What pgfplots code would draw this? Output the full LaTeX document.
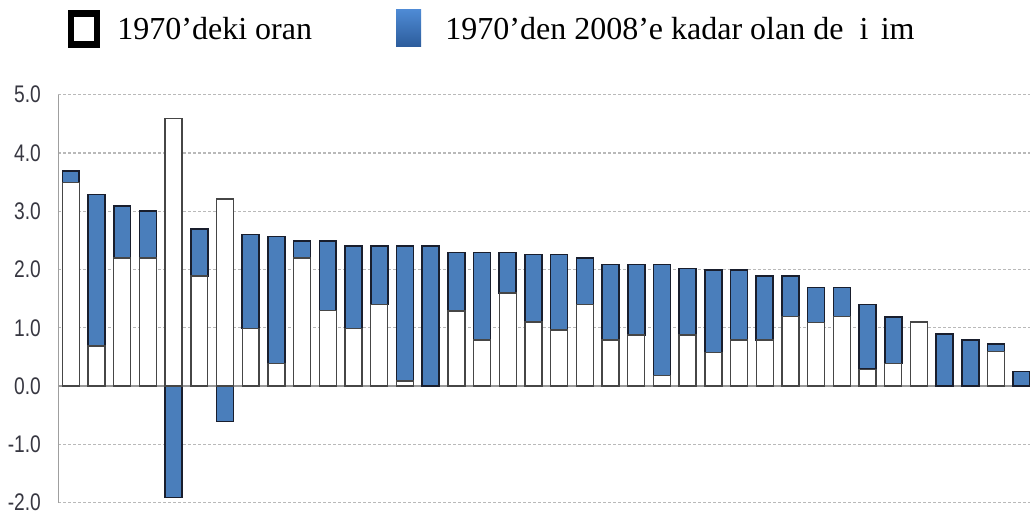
\documentclass[border=0pt]{standalone}
\usepackage{fontspec}
\setmainfont{Liberation Serif}
\newfontfamily\tickfont[FakeStretch=0.8]{Liberation Sans}
\usepackage{pgfplots}
\usepackage{pgfplotstable}
\pgfplotsset{compat=1.18}

\definecolor{barblue}{RGB}{74,126,187}
\definecolor{barline}{RGB}{25,30,45}
\definecolor{whiteline}{RGB}{70,70,70}
\definecolor{ticktext}{RGB}{55,55,65}
\definecolor{gridgray}{RGB}{185,185,185}

% n, rate in 1970, change 1970-2008
\pgfplotstableread{
n  base  change
1  3.49  0.20
2  0.69  2.60
3  2.20  0.89
4  2.20  0.80
5  4.59  -1.91
6  1.89  0.81
7  3.21  -0.61
8  0.99  1.61
9  0.39  2.18
10 2.20  0.29
11 1.30  1.19
12 0.99  1.41
13 1.40  1.00
14 0.09  2.31
15 0.00  2.40
16 1.29  1.00
17 0.79  1.50
18 1.60  0.69
19 1.10  1.16
20 0.96  1.30
21 1.40  0.80
22 0.79  1.30
23 0.88  1.21
24 0.18  1.91
25 0.88  1.14
26 0.58  1.41
27 0.79  1.20
28 0.79  1.10
29 1.19  0.70
30 1.09  0.60
31 1.19  0.50
32 0.29  1.11
33 0.39  0.80
34 1.10  0.00
35 0.00  0.89
36 0.00  0.79
37 0.59  0.13
38 0.00  0.25
}\ratedata

\begin{document}
\begin{tikzpicture}
\useasboundingbox (-29.15pt,-7.65pt) rectangle (485.85pt,251.35pt);
\begin{axis}[
    at={(0,0)}, anchor=south west,
    scale only axis,
    width=485.85pt, height=204pt,
    ybar stacked,
    stack negative=separate,
    bar width=0.66,
    xmin=0.514, xmax=38.32,
    ymin=-2, ymax=5,
    ytick={-2,-1,0,1,2,3,4,5},
    xtick=\empty,
    axis x line=none,
    axis y line*=left,
    y axis line style={draw=gray!75, line width=0.7pt, -},
    major tick length=0pt,
    ymajorgrids,
    grid style={draw=gridgray, line width=0.6pt, dash pattern=on 1.5pt off 1pt},
    extra y ticks={0},
    extra y tick labels={},
    extra y tick style={grid=major, major grid style={draw=gray!80, solid, line width=0.7pt}},
    /pgf/number format/assume math mode=true,
    yticklabel={\pgfmathprintnumber[fixed,fixed zerofill,precision=1]{\tick}},
    yticklabel style={anchor=east, inner sep=0pt, xshift=-8.5pt,
        font=\tickfont\fontsize{12}{14}\selectfont, text=ticktext},
]
\addplot[fill=white, draw=whiteline, line width=0.7pt] table[x=n, y=base] {\ratedata};
\addplot[fill=barblue, draw=barline, line width=0.8pt] table[x=n, y=change] {\ratedata};
\end{axis}

% legend
\draw[line width=3.2pt, black] (6.5pt,229.0pt) rectangle (19.5pt,244.5pt);
\node[anchor=base west, inner sep=0pt, font=\fontsize{16}{19}\selectfont] at (29.35pt,231.35pt) {1970’deki oran};
\shade[top color={rgb,255:red,78;green,138;blue,212}, bottom color={rgb,255:red,44;green,92;blue,155}]
    (168.85pt,227.85pt) rectangle (181.35pt,246.35pt);
\node[anchor=base west, inner sep=0pt, font=\fontsize{16}{19}\selectfont] at (193.35pt,231.35pt) {1970’den 2008’e kadar olan de\phantom{ğ}i\phantom{ş}im};
\end{tikzpicture}
\end{document}
